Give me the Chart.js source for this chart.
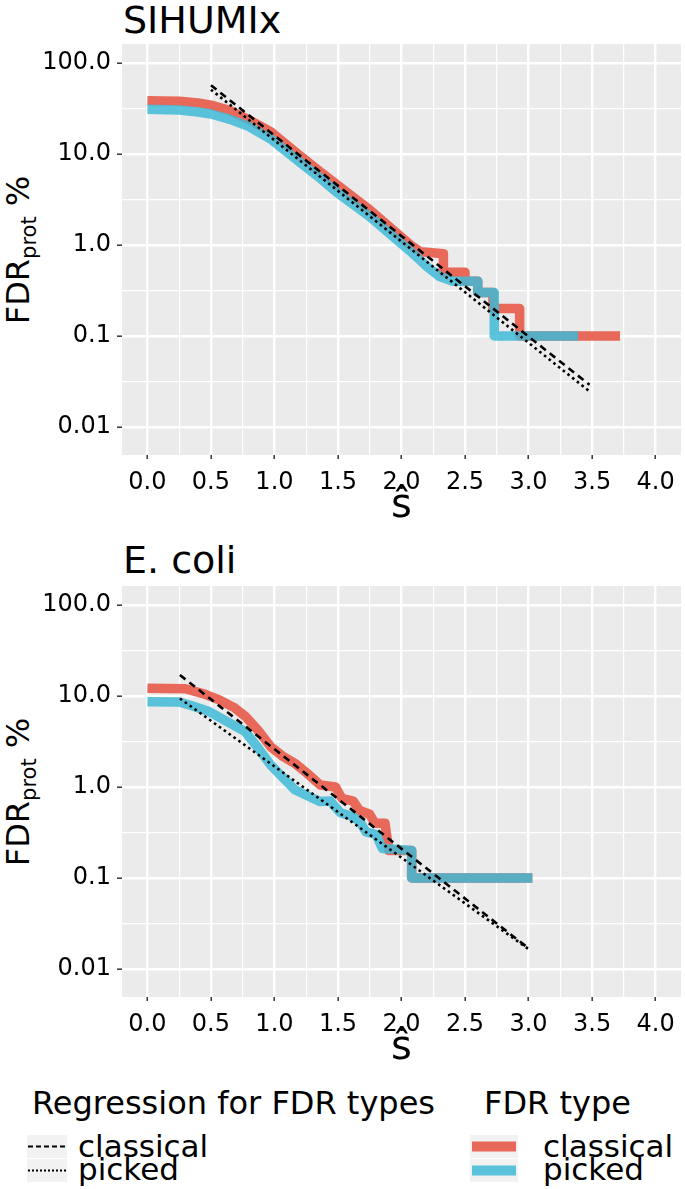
<!DOCTYPE html>
<html>
<head>
<meta charset="utf-8">
<script src="https://cdn.jsdelivr.net/npm/chart.js@4.4.1/dist/chart.umd.min.js"></script>
<style>
  body { margin: 0; background: #fff; width: 685px; height: 1189px; position: relative; overflow: hidden;
         font-family: 'DejaVu Sans', sans-serif; color: #000; }
  .panel { position: absolute; left: 0; width: 685px; height: 535px; }
  .txt { position: absolute; line-height: 1; white-space: nowrap; }
  .ptitle { font-size: 38px; }
  .ytitle { position: absolute; width: 240px; height: 40px; line-height: 40px; text-align: center;
            font-size: 32px; white-space: nowrap; transform: rotate(-90deg); transform-origin: 50% 50%; }
  .ytitle sub { font-size: 21px; vertical-align: -7px; line-height: 0; }
  .ltitle { font-size: 32px; }
  .llabel { font-size: 31px; }
  .key { position: absolute; background: #F2F2F2; }
</style>
</head>
<body>
  <div class="txt ptitle" style="left:123px; top:1px;">SIHUMIx</div>
  <div class="ytitle" style="left:-102px; top:230px;">FDR<sub>prot</sub> %</div>
  <canvas id="chart-sihumix" class="panel" style="top:0px;" width="685" height="535"></canvas>

  <div class="txt ptitle" style="left:123px; top:541px;">E. coli</div>
  <div class="ytitle" style="left:-102px; top:772px;">FDR<sub>prot</sub> %</div>
  <canvas id="chart-ecoli" class="panel" style="top:542px;" width="685" height="535"></canvas>

  <!-- Leyenda -->
  <div class="txt ltitle" style="left:32px; top:1087px;">Regression for FDR types</div>
  <div class="key" style="left:27px; top:1135px; width:40px; height:23px;">
    <svg width="40" height="23"><line x1="1" y1="11.5" x2="39" y2="11.5" stroke="#000" stroke-width="2" stroke-dasharray="5,3"/></svg>
  </div>
  <div class="key" style="left:27px; top:1159px; width:40px; height:23px;">
    <svg width="40" height="23"><line x1="1" y1="11.5" x2="39" y2="11.5" stroke="#000" stroke-width="2" stroke-dasharray="2,2"/></svg>
  </div>
  <div class="txt llabel" style="left:78px; top:1131px;">classical</div>
  <div class="txt llabel" style="left:78px; top:1154px;">picked</div>

  <div class="txt ltitle" style="left:484px; top:1087px;">FDR type</div>
  <div class="key" style="left:470px; top:1135px; width:48px; height:23px;">
    <svg width="48" height="23"><line x1="2" y1="11.5" x2="46" y2="11.5" stroke="#E8695A" stroke-width="10"/></svg>
  </div>
  <div class="key" style="left:470px; top:1159px; width:48px; height:23px;">
    <svg width="48" height="23"><line x1="2" y1="11.5" x2="46" y2="11.5" stroke="rgba(64,186,214,0.85)" stroke-width="10"/></svg>
  </div>
  <div class="txt llabel" style="left:543px; top:1131px;">classical</div>
  <div class="txt llabel" style="left:543px; top:1154px;">picked</div>

<script>
// --- Ejes ---
const xGrid = [0, 0.25, 0.5, 0.75, 1, 1.25, 1.5, 1.75, 2, 2.25, 2.5, 2.75, 3, 3.25, 3.5, 3.75, 4];
const yGrid = [0.01, 0.0316, 0.1, 0.316, 1, 3.16, 10, 31.6, 100];
const yMajor = [0.01, 0.1, 1, 10, 100];
const yLabels = ['0.01', '0.1', '1.0', '10.0', '100.0'];

// --- SIHUMIx ---
const sihClassicalX = [0, 0.25, 0.4, 0.5, 0.65, 0.8, 0.97, 1.2, 1.36, 1.5, 1.75, 2.07, 2.15, 2.33, 2.33, 2.5, 2.5, 2.6, 2.6, 2.72, 2.72, 2.93, 2.93, 3.72];
const sihClassicalY = [38.5, 38, 36.5, 34.5, 30, 23.7, 17.6, 9.6, 6.4, 4.5, 2.43, 1.0, 0.84, 0.8, 0.5, 0.5, 0.4, 0.4, 0.3, 0.3, 0.2, 0.2, 0.1, 0.1];
const sihPickedX = [0, 0.25, 0.4, 0.5, 0.65, 0.8, 0.97, 1.2, 1.36, 1.5, 1.75, 2.07, 2.2, 2.3, 2.4, 2.6, 2.6, 2.73, 2.73, 3.39];
const sihPickedY = [31, 30.5, 29, 27.5, 24, 20, 14.6, 8.1, 5.4, 3.7, 2.05, 0.85, 0.58, 0.45, 0.4, 0.4, 0.3, 0.3, 0.1, 0.1];
const sihRegClassicalX = [0.5, 3.48];
const sihRegClassicalY = [57, 0.029];
const sihRegPickedX = [0.5, 3.48];
const sihRegPickedY = [51, 0.0245];

// --- E. coli ---
const ecoClassicalX = [0, 0.3, 0.45, 0.57, 0.68, 0.77, 0.87, 0.97, 1.06, 1.16, 1.26, 1.36, 1.48, 1.53, 1.62, 1.67, 1.75, 1.79, 1.87, 1.9, 2.08, 2.08, 3.03];
const ecoClassicalY = [12.2, 12.0, 10.5, 9.0, 7.5, 6.0, 4.2, 2.77, 2.2, 1.82, 1.4, 1.05, 1.0, 0.75, 0.7, 0.55, 0.5, 0.4, 0.4, 0.2, 0.2, 0.1, 0.1];
const ecoPickedX = [0, 0.25, 0.35, 0.49, 0.62, 0.77, 0.87, 0.97, 1.06, 1.16, 1.26, 1.36, 1.44, 1.52, 1.6, 1.67, 1.72, 1.8, 1.85, 2.08, 2.08, 3.03];
const ecoPickedY = [8.65, 8.6, 7.8, 6.7, 5.3, 4.05, 2.7, 1.75, 1.3, 0.93, 0.8, 0.69, 0.7, 0.52, 0.48, 0.42, 0.32, 0.3, 0.21, 0.2, 0.1, 0.1];
const ecoRegClassicalX = [0.256, 3.0];
const ecoRegClassicalY = [17.0, 0.0168];
const ecoRegPickedX = [0.256, 3.0];
const ecoRegPickedY = [9.4, 0.0165];

const RED = '#E8695A';
const BLUE = 'rgba(64,186,214,0.85)';
const FONT = 'DejaVu Sans';

const toPoints = (xs, ys) => xs.map((x, i) => ({ x: x, y: ys[i] }));
const isMajorX = v => Math.abs(v * 2 - Math.round(v * 2)) < 1e-6;
const isMajorY = v => yMajor.some(m => Math.abs(m - v) / m < 1e-3);

// Fondo gris del panel (estilo ggplot)
const panelBg = {
    id: 'panelBg',
    beforeDraw(chart) {
        const { ctx, chartArea: a } = chart;
        ctx.save();
        ctx.fillStyle = '#EBEBEB';
        ctx.fillRect(a.left, a.top, a.right - a.left, a.bottom - a.top);
        ctx.restore();
    }
};

function buildChart(canvasId, d) {
    const ctx = document.getElementById(canvasId).getContext('2d');
    return new Chart(ctx, {
        type: 'line',
        data: {
            datasets: [
                { data: toPoints(d.regClassicalX, d.regClassicalY), borderColor: '#000', borderWidth: 2.6, borderDash: [7, 5] },
                { data: toPoints(d.regPickedX, d.regPickedY), borderColor: '#000', borderWidth: 2.6, borderDash: [2.6, 3.4] },
                { data: toPoints(d.pickedX, d.pickedY), borderColor: BLUE, borderWidth: 9.5 },
                { data: toPoints(d.classicalX, d.classicalY), borderColor: RED, borderWidth: 9.5 }
            ]
        },
        options: {
            responsive: false,
            animation: false,
            devicePixelRatio: 1,
            parsing: false,
            layout: { padding: { top: 44, right: 4, left: 0, bottom: 0 } },
            elements: {
                point: { radius: 0 },
                line: { tension: 0, fill: false, borderJoinStyle: 'round', borderCapStyle: 'butt' }
            },
            plugins: { legend: { display: false }, tooltip: { enabled: false } },
            scales: {
                x: {
                    type: 'linear', min: -0.2, max: 4.2,
                    afterBuildTicks: s => { s.ticks = xGrid.map(v => ({ value: v })); },
                    afterFit: s => { s.height = 80; },
                    border: { display: false },
                    grid: {
                        color: '#FFFFFF',
                        lineWidth: c => isMajorX(c.tick.value) ? 2.4 : 1.2,
                        tickColor: c => isMajorX(c.tick.value) ? '#333333' : 'rgba(0,0,0,0)',
                        tickLength: 4, tickWidth: 1.5
                    },
                    ticks: {
                        autoSkip: false, maxRotation: 0, padding: 9, color: '#000',
                        font: { family: FONT, size: 24 },
                        callback: v => isMajorX(v) ? v.toFixed(1) : ''
                    },
                    title: { display: true, text: 'ŝ', color: '#000', font: { family: FONT, size: 40 }, padding: { top: 0, bottom: 4 } }
                },
                y: {
                    type: 'logarithmic', min: 0.0049, max: 162,
                    afterBuildTicks: s => { s.ticks = yGrid.map(v => ({ value: v })); },
                    afterFit: s => { s.width = 122; },
                    border: { display: false },
                    grid: {
                        color: '#FFFFFF',
                        lineWidth: c => isMajorY(c.tick.value) ? 2.4 : 1.2,
                        tickColor: c => isMajorY(c.tick.value) ? '#333333' : 'rgba(0,0,0,0)',
                        tickLength: 5, tickWidth: 1.5
                    },
                    ticks: {
                        autoSkip: false, padding: 6, color: '#000',
                        font: { family: FONT, size: 24 },
                        callback: v => {
                            const i = yMajor.findIndex(m => Math.abs(m - v) / m < 1e-3);
                            return i >= 0 ? yLabels[i] : '';
                        }
                    }
                }
            }
        },
        plugins: [panelBg]
    });
}

document.addEventListener('DOMContentLoaded', () => {
    buildChart('chart-sihumix', {
        classicalX: sihClassicalX, classicalY: sihClassicalY,
        pickedX: sihPickedX, pickedY: sihPickedY,
        regClassicalX: sihRegClassicalX, regClassicalY: sihRegClassicalY,
        regPickedX: sihRegPickedX, regPickedY: sihRegPickedY
    });
    buildChart('chart-ecoli', {
        classicalX: ecoClassicalX, classicalY: ecoClassicalY,
        pickedX: ecoPickedX, pickedY: ecoPickedY,
        regClassicalX: ecoRegClassicalX, regClassicalY: ecoRegClassicalY,
        regPickedX: ecoRegPickedX, regPickedY: ecoRegPickedY
    });
});
</script>
</body>
</html>
